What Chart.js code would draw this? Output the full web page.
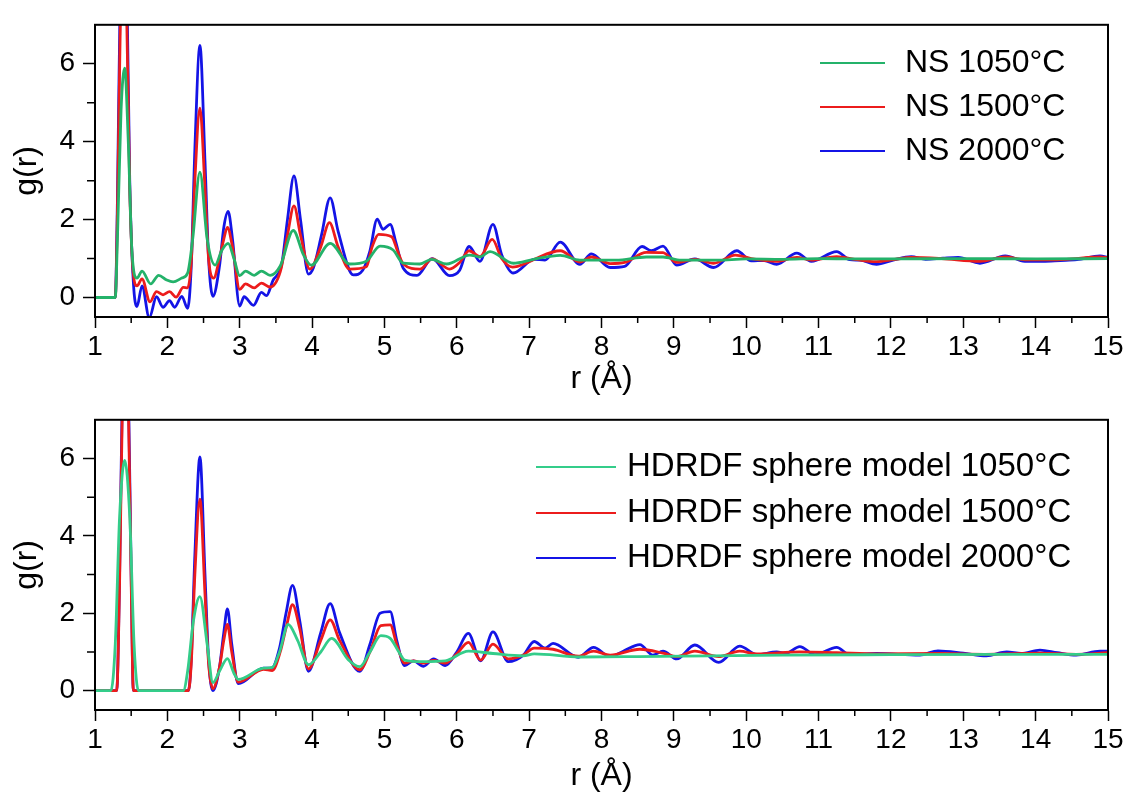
<!doctype html>
<html lang="en">
<head>
  <meta charset="utf-8">
  <title>g(r) - NS and HDRDF sphere model</title>
  <script src="https://cdn.jsdelivr.net/npm/chart.js"></script>
  <style>
    body { margin: 0; background: #fff; }
    .panel { position: absolute; left: 0; width: 1128px; }
  </style>
</head>
<body>

<div class="panel" style="top:0; height:395px;"><canvas id="topChart"></canvas></div>
<div class="panel" style="top:395px; height:400px;"><canvas id="bottomChart"></canvas></div>

<script>
  // ---- top panel: NS ----
  var nsR1050 = [1.0,1.28,1.31,1.36,1.41,1.46,1.51,1.58,1.65,1.77, 1.88,1.99,2.08,2.20,2.28,2.35,2.45,2.55,2.66,2.75,
                 2.84,2.92,3.00,3.08,3.20,3.30,3.42,3.56,3.74,3.88, 3.99,4.25,4.52,4.75,4.94,5.12,5.26,5.49,5.65,5.86,
                 6.18,6.32,6.46,6.78,7.06,7.43,7.70,8.20,8.62,8.85, 9.10,9.60,10.0,10.5,11.0,11.5,12.0,13.0,14.0,15.0];
  var nsG1050 = [0,0,1.5,4.8,5.89,4.0,1.2,0.5,0.68,0.35, 0.57,0.45,0.4,0.5,0.63,1.5,3.22,1.5,0.83,1.2,
                 1.39,1.0,0.56,0.68,0.57,0.68,0.57,0.81,1.72,1.1, 0.83,1.39,0.86,0.93,1.32,1.22,0.88,0.86,0.98,0.86,
                 1.09,1.04,1.18,0.88,0.98,1.08,0.96,0.96,1.04,1.04, 0.96,0.96,0.99,0.98,1.0,0.99,0.99,1.0,0.99,1.0];

  var nsR1500 = [1.0,1.28,1.31,1.35,1.40,1.44,1.48,1.53,1.58,1.65, 1.76,1.85,1.94,2.03,2.12,2.22,2.28,2.33,2.38,2.45,
                 2.52,2.57,2.64,2.72,2.78,2.83,2.90,3.00,3.08,3.20, 3.30,3.42,3.56,3.66,3.75,3.84,3.97,4.12,4.24,4.36,
                 4.52,4.75,4.83,4.92,5.10,5.18,5.26,5.49,5.66,5.90, 6.04,6.17,6.32,6.49,6.62,6.77,6.98,7.08,7.43,7.70,
                 7.86,8.12,8.32,8.62,8.85,9.04,9.29,9.55,9.85,10.07, 10.42,10.70,10.90,11.25,11.50,11.80,12.03,12.28,12.70,13.23,
                 13.58,13.85,14.30,14.89,15.0];
  var nsG1500 = [0,0,2.2,7,8.5,7,2.8,0.6,0.3,0.48, -0.11,0.15,0.07,0.15,0.01,0.26,0.25,0.9,3.0,4.86,
                 2.8,1.0,0.5,1.0,1.5,1.8,1.3,0.21,0.35,0.25, 0.37,0.27,0.66,1.6,2.35,1.6,0.73,1.3,1.92,1.3,
                 0.73,0.79,1.3,1.62,1.56,1.2,0.86,0.73,0.99,0.73, 0.9,1.2,1.05,1.49,1.0,0.78,0.9,0.99,1.2,0.91,
                 1.04,0.87,0.9,1.16,1.15,0.9,0.98,0.88,1.09,1.0, 0.93,1.03,0.96,1.05,0.98,0.92,0.97,1.03,1.0,0.93,
                 1.04,0.97,0.97,1.04,1.02];

  var nsR2000 = [1.0,1.28,1.31,1.35,1.40,1.44,1.48,1.53,1.58,1.65, 1.75,1.85,1.94,2.03,2.10,2.20,2.28,2.33,2.38,2.45,
                 2.52,2.57,2.63,2.72,2.78,2.84,2.90,3.00,3.06,3.19, 3.30,3.37,3.46,3.58,3.66,3.75,3.84,3.95,4.02,4.13,
                 4.25,4.36,4.57,4.70,4.80,4.90,4.98,5.08,5.16,5.26, 5.45,5.66,5.90,6.04,6.17,6.32,6.50,6.62,6.78,7.07,
                 7.22,7.43,7.70,7.86,8.12,8.32,8.56,8.69,8.85,9.04, 9.29,9.55,9.87,10.07,10.25,10.42,10.70,10.90,11.25,11.43,
                 11.57,11.80,12.03,12.28,12.48,12.72,12.93,13.23,13.58,13.85, 14.10,14.34,14.57,14.89,15.0];
  var nsG2000 = [0,0,2.5,8,9.5,8,3,0.4,-0.23,0.3, -0.52,0.02,-0.25,-0.08,-0.25,0.03,-0.28,0.8,3.8,6.47,
                 3.5,1.0,0.03,0.8,1.8,2.21,1.5,-0.22,0.02,-0.2, 0.13,0.05,0.44,0.85,2.0,3.12,2.0,0.6,0.77,1.6,
                 2.56,1.7,0.58,0.7,1.2,2.01,1.75,1.88,1.4,0.75, 0.57,1.0,0.56,0.7,1.31,0.93,1.88,1.1,0.63,0.98,
                 0.96,1.42,0.85,1.12,0.77,0.8,1.31,1.2,1.32,0.83, 0.99,0.77,1.2,0.94,0.95,0.85,1.14,0.93,1.18,0.97,
                 0.96,0.85,0.96,1.05,0.98,1.01,1.03,0.88,1.07,0.93, 0.93,0.95,0.97,1.07,1.03];

  // ---- bottom panel: HDRDF sphere model ----
  var hdR1050 = [1.0,1.22,1.28,1.34,1.41,1.48,1.54,1.60,2.22,2.28, 2.36,2.45,2.55,2.63,2.72,2.83,2.92,2.98,3.33,3.45,
                 3.55,3.67,3.80,3.95,4.12,4.27,4.50,4.66,4.80,4.95, 5.08,5.20,5.28,5.54,5.84,6.16,6.50,6.92,7.07,7.70,
                 8.50,9.50,10.50,12.0,15.0];
  var hdG1050 = [0,0,1.2,4.5,5.95,4.5,1.2,0,0,0.5, 1.8,2.43,1.2,0.21,0.5,0.83,0.45,0.29,0.58,0.6,
                 1.0,1.71,1.3,0.67,1.0,1.35,0.8,0.62,1.0,1.42, 1.35,1.0,0.79,0.75,0.77,1.02,0.96,0.9,0.95,0.87,
                 0.88,0.9,0.92,0.93,0.94];

  var hdR1500 = [1.0,1.30,1.34,1.38,1.42,1.46,1.50,1.53,2.29,2.33, 2.38,2.45,2.52,2.57,2.63,2.72,2.78,2.83,2.89,2.98,
                 3.33,3.45,3.56,3.65,3.73,3.83,3.95,4.12,4.25,4.38, 4.66,4.80,4.95,5.08,5.17,5.28,5.40,5.54,5.68,5.84,
                 6.00,6.16,6.33,6.50,6.71,6.92,7.07,7.33,7.68,7.89, 8.12,8.53,8.85,9.04,9.29,9.62,9.91,10.15,10.74,11.25,
                 11.80,12.65,13.30,14.06,14.56,15.0];
  var hdG1500 = [0,0,2.8,7.5,9,7.5,2.8,0,0,0.7, 3.0,4.95,2.5,0.7,0.05,0.6,1.3,1.71,1.0,0.22,
                 0.55,0.52,1.0,1.7,2.22,1.6,0.56,1.3,1.83,1.3, 0.54,1.0,1.68,1.7,1.2,0.71,0.77,0.71,0.78,0.71,
                 0.95,1.25,0.79,1.2,0.82,0.92,1.1,1.07,0.89,1.02, 0.92,1.07,0.97,0.88,1.02,0.88,1.02,0.95,1.0,0.98,
                 0.95,0.96,0.94,0.97,0.94,0.98];

  var hdR2000 = [1.0,1.30,1.34,1.38,1.42,1.46,1.50,1.53,2.29,2.33, 2.38,2.45,2.52,2.57,2.63,2.72,2.78,2.83,2.89,2.98,
                 3.33,3.44,3.55,3.64,3.73,3.83,3.95,4.12,4.25,4.38, 4.66,4.80,4.94,5.08,5.17,5.28,5.40,5.54,5.68,5.84,
                 6.00,6.16,6.33,6.50,6.71,6.92,7.07,7.22,7.33,7.68, 7.89,8.12,8.30,8.53,8.71,8.85,9.04,9.29,9.62,9.91,
                 10.15,10.42,10.55,10.74,10.95,11.25,11.43,11.80,12.40,12.65, 13.00,13.32,13.60,13.80,14.06,14.30,14.56,14.89,15.0];
  var hdG2000 = [0,0,3,8,10,8,3,0,0,0.8, 3.5,6.04,3.0,0.8,0,0.6,1.5,2.11,1.2,0.18,
                 0.58,0.58,1.1,2.0,2.72,1.8,0.5,1.5,2.25,1.5, 0.5,1.2,2.0,2.04,1.3,0.65,0.77,0.63,0.82,0.65,
                 1.0,1.48,0.77,1.52,0.75,0.92,1.27,1.1,1.22,0.86, 1.12,0.88,1.02,1.19,0.92,1.02,0.82,1.18,0.73,1.15,
                 0.93,1.0,0.97,1.14,0.93,1.12,0.93,0.96,0.92,1.03, 0.97,0.9,1.0,0.96,1.05,0.98,0.92,1.02,1.02];

  var topLabels = ['NS 1050°C', 'NS 1500°C', 'NS 2000°C'];
  var bottomLabels = ['HDRDF sphere model 1050°C', 'HDRDF sphere model 1500°C', 'HDRDF sphere model 2000°C'];
  var yTickValues = [0, 2, 4, 6];

  var FONT = '"Liberation Sans", Arial, sans-serif';

  function pts(r, g) {
    return r.map(function (x, i) { return {x: x, y: g[i]}; });
  }

  function line(label, r, g, color) {
    return {
      label: label,
      data: pts(r, g),
      borderColor: color,
      borderWidth: 2.8,
      pointRadius: 0,
      cubicInterpolationMode: 'monotone',
      fill: false
    };
  }

  // box frame, minor ticks and the in-plot legend
  var panelDecor = {
    id: 'panelDecor',
    afterDraw: function (chart, args, opts) {
      var ctx = chart.ctx, a = chart.chartArea;
      var x = chart.scales.x, y = chart.scales.y;
      ctx.save();
      ctx.strokeStyle = '#000';
      ctx.lineWidth = 2;
      ctx.strokeRect(a.left, a.top, a.right - a.left, a.bottom - a.top);

      ctx.lineWidth = 1.5;
      ctx.beginPath();
      for (var v = 1.5; v < 15; v += 1) {
        var px = x.getPixelForValue(v);
        ctx.moveTo(px, a.bottom); ctx.lineTo(px, a.bottom + 6);
      }
      for (var w = 1; w < 7; w += 2) {
        var py = y.getPixelForValue(w);
        ctx.moveTo(a.left, py); ctx.lineTo(a.left - 8, py);
      }
      ctx.stroke();

      ctx.font = opts.fontSize + 'px ' + FONT;
      ctx.textBaseline = 'middle';
      ctx.fillStyle = '#000';
      chart.data.datasets.forEach(function (ds, i) {
        var yy = opts.rows[i];
        ctx.strokeStyle = ds.borderColor;
        ctx.lineWidth = 2;
        ctx.beginPath();
        ctx.moveTo(opts.lineX[0], yy); ctx.lineTo(opts.lineX[1], yy);
        ctx.stroke();
        ctx.fillText(ds.label, opts.textX, yy);
      });
      ctx.restore();
    }
  };

  function makeConfig(datasets, padTop, xHeight, titlePad, legendOpts) {
    return {
      type: 'line',
      data: {datasets: datasets},
      options: {
        responsive: true,
        maintainAspectRatio: false,
        animation: false,
        events: [],
        layout: {padding: {top: padTop, right: 20, left: 0, bottom: 0}},
        scales: {
          x: {
            type: 'linear', min: 1, max: 15,
            afterFit: function (s) { s.height = xHeight; },
            ticks: {stepSize: 1, color: '#000', font: {family: FONT, size: 28}, padding: 2, maxRotation: 0, autoSkip: false},
            grid: {drawOnChartArea: false, tickLength: 11, tickColor: '#000', tickWidth: 1.5},
            border: {color: '#000', width: 2},
            title: {display: true, text: 'r (Å)', color: '#000', font: {family: FONT, size: 32, lineHeight: 1}, padding: {top: 0, bottom: titlePad}}
          },
          y: {
            min: -0.5, max: 7,
            afterFit: function (s) { s.width = 95; },
            afterBuildTicks: function (s) {
              s.ticks = yTickValues.map(function (v) { return {value: v}; });
            },
            ticks: {color: '#000', font: {family: FONT, size: 28}, padding: 8},
            grid: {drawOnChartArea: false, tickLength: 12, tickColor: '#000', tickWidth: 1.5},
            border: {color: '#000', width: 2},
            title: {display: true, text: 'g(r)', color: '#000', font: {family: FONT, size: 32, lineHeight: 1}, padding: {top: 11, bottom: 0}}
          }
        },
        plugins: {
          legend: {display: false},
          tooltip: {enabled: false},
          panelDecor: legendOpts
        }
      },
      plugins: [panelDecor]
    };
  }

  window.onload = function () {
    new Chart(document.getElementById('topChart'), makeConfig([
      line(topLabels[0], nsR1050, nsG1050, '#24b26a'),
      line(topLabels[1], nsR1500, nsG1500, '#ec1c1c'),
      line(topLabels[2], nsR2000, nsG2000, '#1414e6')
    ], 13, 78, 0, {rows: [63, 107, 151], lineX: [820, 885], textX: 905, fontSize: 32}));

    new Chart(document.getElementById('bottomChart'), makeConfig([
      line(bottomLabels[0], hdR1050, hdG1050, '#34cd8a'),
      line(bottomLabels[1], hdR1500, hdG1500, '#ec1c1c'),
      line(bottomLabels[2], hdR2000, hdG2000, '#1414e6')
    ], 10, 85, 3, {rows: [72, 118, 163], lineX: [536, 616], textX: 627, fontSize: 33}));
  };
</script>
</body>
</html>
